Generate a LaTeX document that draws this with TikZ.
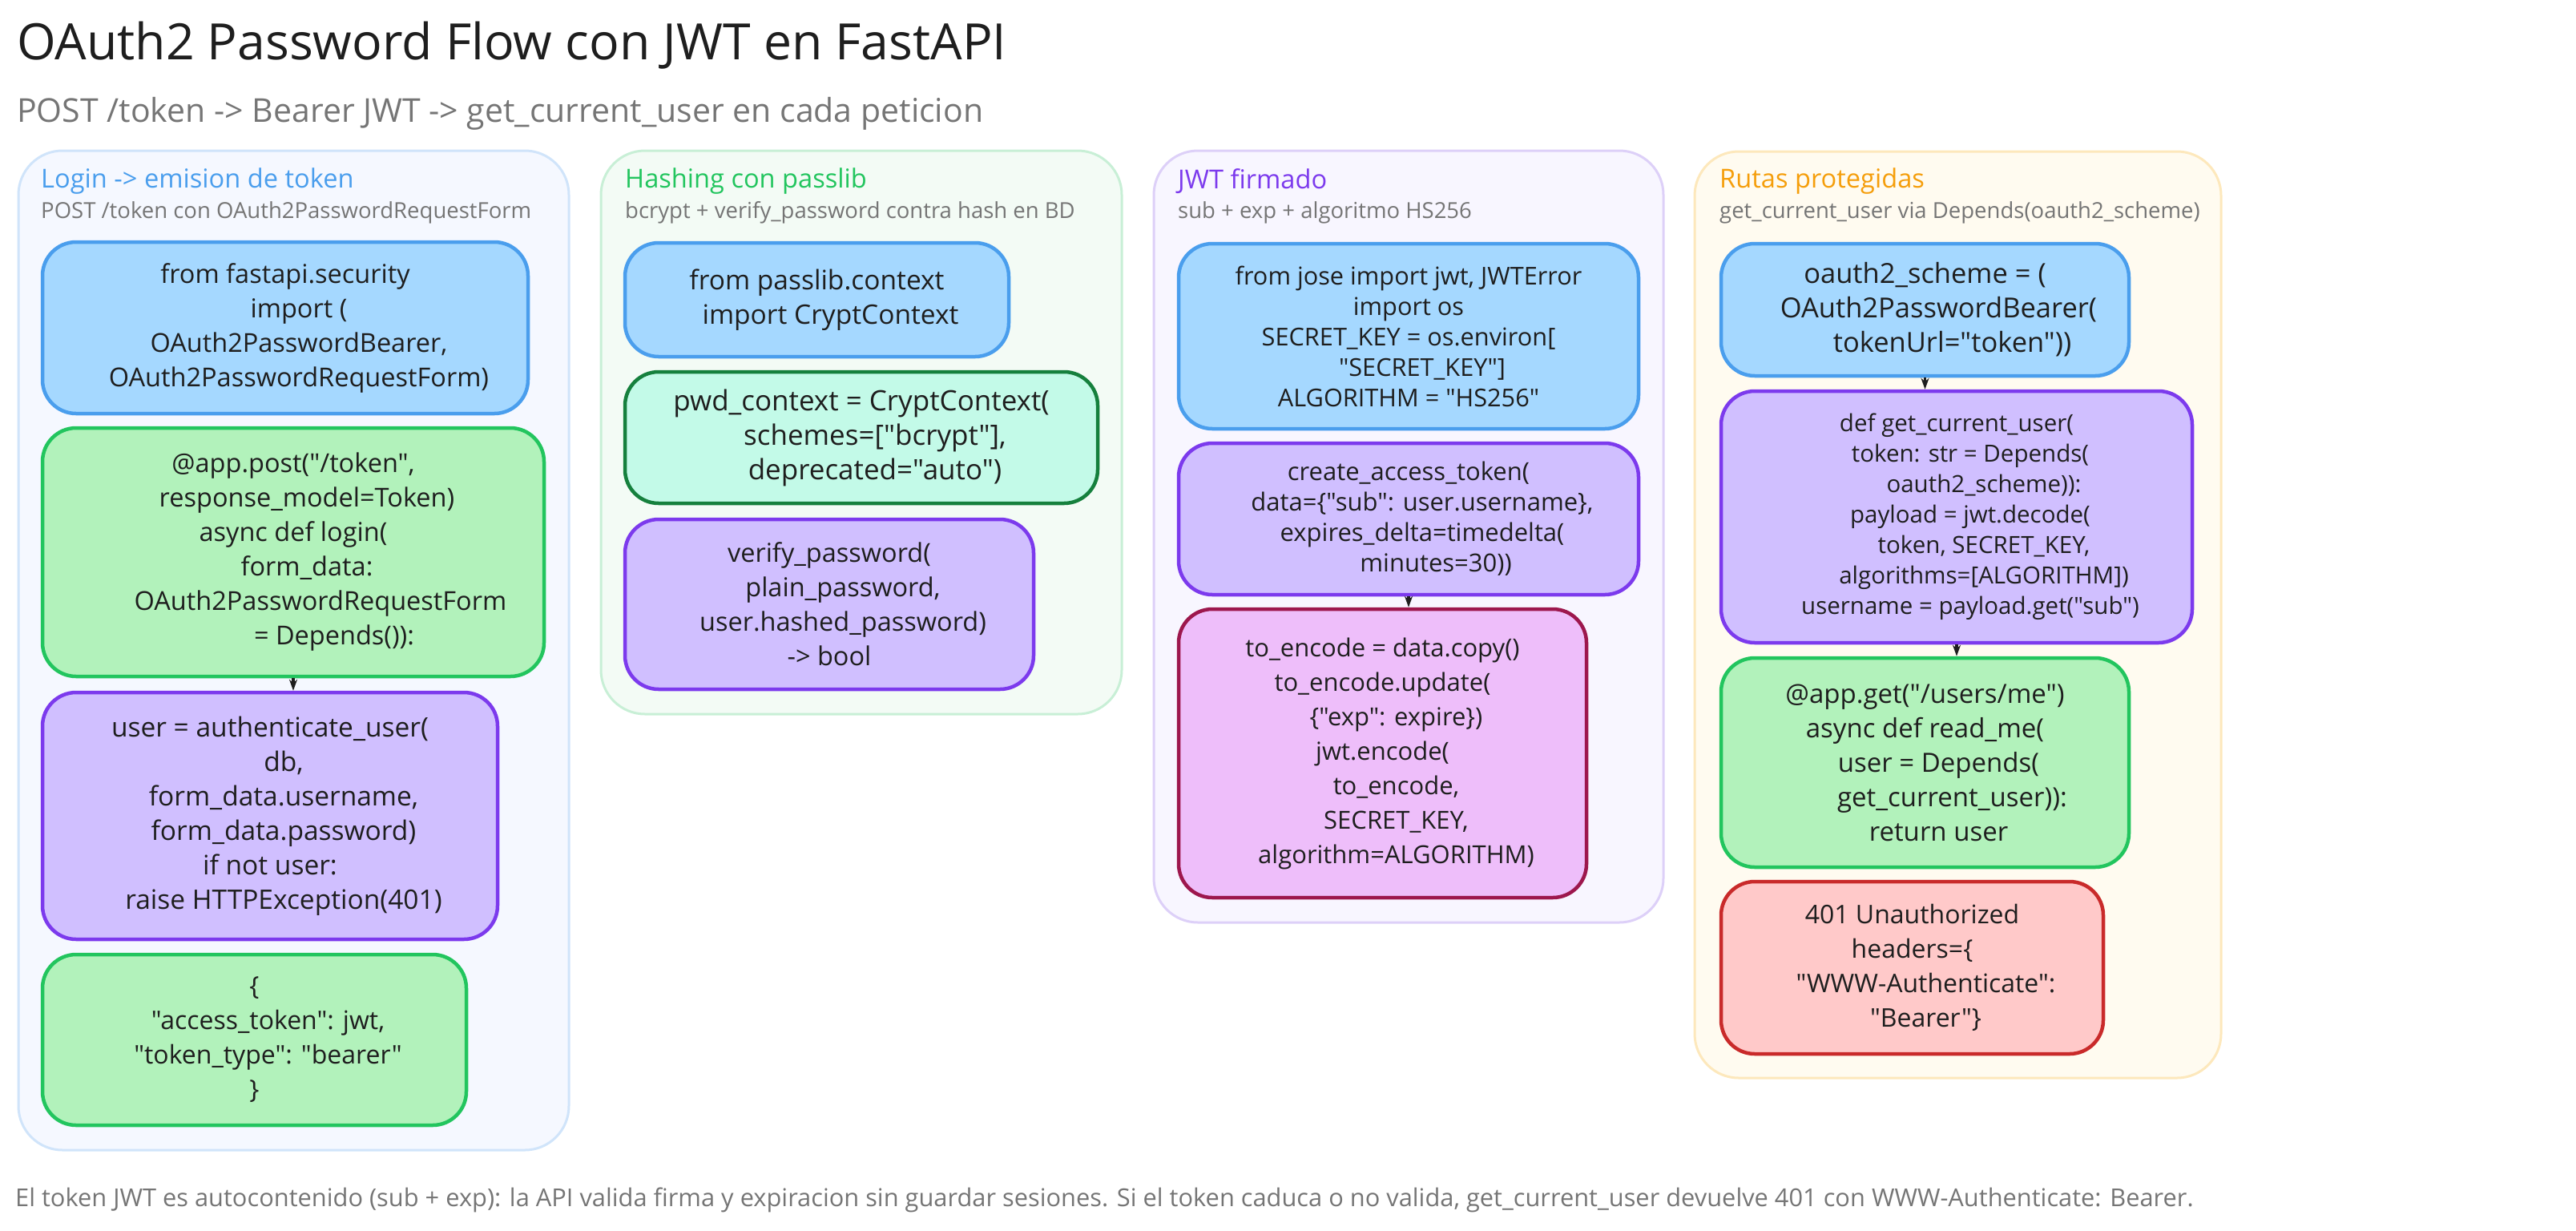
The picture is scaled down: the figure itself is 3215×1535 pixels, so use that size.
\documentclass[tikz,border=0pt]{standalone}
\usepackage{fontspec}
\usepackage{tikz}
\usetikzlibrary{arrows.meta}
\setmainfont{Open Sans}[Ligatures=TeXOff]
\definecolor{inkdark}{HTML}{1E1E1E}
\definecolor{inkgray}{HTML}{757575}
\definecolor{strokeblue}{HTML}{4A9EED}
\definecolor{fillblue}{HTML}{A5D8FF}
\definecolor{strokegreen}{HTML}{22C55E}
\definecolor{fillgreen}{HTML}{B2F2BB}
\definecolor{strokepurple}{HTML}{7C3AED}
\definecolor{fillpurple}{HTML}{D0BFFF}
\definecolor{stroketeal}{HTML}{15803D}
\definecolor{fillteal}{HTML}{C3FAE8}
\definecolor{strokepink}{HTML}{9D174D}
\definecolor{fillpink}{HTML}{EEBEFA}
\definecolor{strokered}{HTML}{C92A2A}
\definecolor{fillred}{HTML}{FFC9C9}
\definecolor{titleorange}{HTML}{F59E0B}
\definecolor{panelblue}{HTML}{F5F8FF}
\definecolor{edgeblue}{HTML}{D0E4FA}
\definecolor{panelgreen}{HTML}{F3FBF5}
\definecolor{edgegreen}{HTML}{C8EFD6}
\definecolor{panelpurple}{HTML}{F8F6FF}
\definecolor{edgepurple}{HTML}{DDD0F8}
\definecolor{panelyellow}{HTML}{FFFBF0}
\definecolor{edgeyellow}{HTML}{FDE8BC}
\newcommand{\indentby}[1]{\hspace*{#1\dimexpr 8.5pt\relax}}
\tikzset{
  panel/.style={draw, rounded corners=55pt, line width=3pt, inner sep=0pt},
  codebox/.style={draw, rounded corners=42pt, line width=4.5pt, inner sep=0pt, align=center,
    text=inkdark, font=\fontsize{32.5}{43}\selectfont},
  codesize/.style={font=\fontsize{#1}{43}\selectfont},
  codetight/.style={font=\fontsize{#1}{38}\selectfont},
  bluebox/.style={codebox, draw=strokeblue, fill=fillblue},
  greenbox/.style={codebox, draw=strokegreen, fill=fillgreen},
  purplebox/.style={codebox, draw=strokepurple, fill=fillpurple},
  tealbox/.style={codebox, draw=stroketeal, fill=fillteal},
  pinkbox/.style={codebox, draw=strokepink, fill=fillpink},
  redbox/.style={codebox, draw=strokered, fill=fillred},
  paneltitle/.style={anchor=west, inner sep=0pt, font=\fontsize{32.6}{38}\selectfont},
  panelnote/.style={anchor=west, inner sep=0pt, text=inkgray, font=\fontsize{27.5}{32}\selectfont},
  flowarrow/.style={-{Stealth[length=14pt, width=10pt]}, draw=inkdark, line width=3.5pt},
}

\begin{document}
\begin{tikzpicture}[x=1pt, y=-1pt]
  \useasboundingbox (0,0) rectangle (3215,1535);

  % Heading lines
  \node[anchor=west, inner sep=0pt, text=inkdark, font=\fontsize{62.5}{70}\selectfont] (heading) at (21,57)
    {OAuth2 Password Flow con JWT en FastAPI};
  \node[anchor=west, inner sep=0pt, text=inkgray, font=\fontsize{41}{48}\selectfont] (subheading) at (21,142)
    {POST /token -> Bearer JWT -> get\_current\_user en cada peticion};

  % Panels
  \node[panel, draw=edgeblue, fill=panelblue, minimum width=687, minimum height=1247] (panellogin) at (366.5,811.5) {};
  \node[panel, draw=edgegreen, fill=panelgreen, minimum width=650, minimum height=703] (panelhash) at (1075,539.5) {};
  \node[panel, draw=edgepurple, fill=panelpurple, minimum width=636, minimum height=963] (paneljwt) at (1758,669.5) {};
  \node[panel, draw=edgeyellow, fill=panelyellow, minimum width=657, minimum height=1156] (panelroutes) at (2443.5,767) {};

  % Login column
  \node[paneltitle, text=strokeblue] (logintitle) at (51,226) {Login -> emision de token};
  \node[panelnote] (loginnote) at (51,265) {POST /token con OAuth2PasswordRequestForm};
  \node[bluebox, minimum width=606, minimum height=214] (loginimports) at (356,409)
    {from fastapi.security\\\indentby{4}import (\\\indentby{4}OAuth2PasswordBearer,\\\indentby{4}OAuth2PasswordRequestForm)};
  \node[greenbox, minimum width=626, minimum height=310] (loginroute) at (366,689)
    {@app.post("/token",\\\indentby{4}response\_model=Token)\\async def login(\\\indentby{4}form\_data:\\\indentby{8}OAuth2PasswordRequestForm\\\indentby{12}= Depends()):};
  \node[purplebox, codesize=33.5, minimum width=568, minimum height=308] (loginauth) at (337,1018)
    {user = authenticate\_user(\\\indentby{4}db,\\\indentby{4}form\_data.username,\\\indentby{4}form\_data.password)\\if not user:\\\indentby{4}raise HTTPException(401)};
  \node[greenbox, codesize=32, minimum width=529, minimum height=213] (loginreply) at (317.5,1297.5)
    {\{\\\indentby{4}"access\_token": jwt,\\\indentby{4}"token\_type": "bearer"\\\}};

  % Hashing column
  \node[paneltitle, text=strokegreen] (hashtitle) at (780,226) {Hashing con passlib};
  \node[panelnote] (hashnote) at (780,265) {bcrypt + verify\_password contra hash en BD};
  \node[bluebox, codesize=33.5, minimum width=479, minimum height=142] (hashimports) at (1019.5,374)
    {from passlib.context\\\indentby{4}import CryptContext};
  \node[tealbox, codesize=35, minimum width=590, minimum height=164] (hashcontext) at (1075,546)
    {pwd\_context = CryptContext(\\\indentby{4}schemes=["bcrypt"],\\\indentby{4}deprecated="auto")};
  \node[purplebox, minimum width=510, minimum height=212] (hashverify) at (1035,754)
    {verify\_password(\\\indentby{4}plain\_password,\\\indentby{4}user.hashed\_password)\\-> bool};

  % JWT column
  \node[paneltitle, text=strokepurple] (jwttitle) at (1470,226) {JWT firmado};
  \node[panelnote] (jwtnote) at (1470,265) {sub + exp + algoritmo HS256};
  \node[bluebox, codetight=30.7, minimum width=574, minimum height=231] (jwtimports) at (1758,419.5)
    {from jose import jwt, JWTError\\import os\\SECRET\_KEY = os.environ[\\\indentby{4}"SECRET\_KEY"]\\ALGORITHM = "HS256"};
  \node[purplebox, codetight=31, minimum width=574, minimum height=189] (jwtcreate) at (1758,647.5)
    {create\_access\_token(\\\indentby{4}data=\{"sub": user.username\},\\\indentby{4}expires\_delta=timedelta(\\\indentby{8}minutes=30))};
  \node[pinkbox, codesize=31, minimum width=509, minimum height=360] (jwtencode) at (1725.5,940)
    {to\_encode = data.copy()\\to\_encode.update(\\\indentby{4}\{"exp": expire\})\\jwt.encode(\\\indentby{4}to\_encode,\\\indentby{4}SECRET\_KEY,\\\indentby{4}algorithm=ALGORITHM)};

  % Protected routes column
  \node[paneltitle, text=titleorange] (routestitle) at (2146,226) {Rutas protegidas};
  \node[panelnote] (routesnote) at (2146,265) {get\_current\_user via Depends(oauth2\_scheme)};
  \node[bluebox, codesize=34.5, minimum width=509, minimum height=165] (routesscheme) at (2402.5,386.5)
    {oauth2\_scheme = (\\\indentby{4}OAuth2PasswordBearer(\\\indentby{8}tokenUrl="token"))};
  \node[purplebox, codetight=29.5, minimum width=588, minimum height=314] (routesuser) at (2442,645)
    {def get\_current\_user(\\\indentby{4}token: str = Depends(\\\indentby{8}oauth2\_scheme)):\\\indentby{4}payload = jwt.decode(\\\indentby{8}token, SECRET\_KEY,\\\indentby{8}algorithms=[ALGORITHM])\\\indentby{4}username = payload.get("sub")};
  \node[greenbox, codesize=33, minimum width=509, minimum height=261] (routesme) at (2402.5,951.5)
    {@app.get("/users/me")\\async def read\_me(\\\indentby{4}user = Depends(\\\indentby{8}get\_current\_user)):\\\indentby{4}return user};
  \node[redbox, codesize=32, minimum width=477, minimum height=215] (routesdenied) at (2386.5,1207.5)
    {401 Unauthorized\\headers=\{\\\indentby{4}"WWW-Authenticate":\\\indentby{4}"Bearer"\}};

  % Arrows between boxes
  \draw[flowarrow] (loginroute.south) -- (loginroute.south |- loginauth.north);
  \draw[flowarrow] (jwtcreate.south) -- (jwtcreate.south |- jwtencode.north);
  \draw[flowarrow] (routesscheme.south) -- (routesscheme.south |- routesuser.north);
  \draw[flowarrow] (routesuser.south) -- (routesuser.south |- routesme.north);

  % Closing remark
  \node[anchor=west, inner sep=0pt, text=inkgray, font=\fontsize{30.8}{36}\selectfont] (remark) at (19,1497)
    {El token JWT es autocontenido (sub + exp): la API valida firma y expiracion sin guardar sesiones. Si el token caduca o no valida, get\_current\_user devuelve 401 con WWW-Authenticate: Bearer.};
\end{tikzpicture}
\end{document}
